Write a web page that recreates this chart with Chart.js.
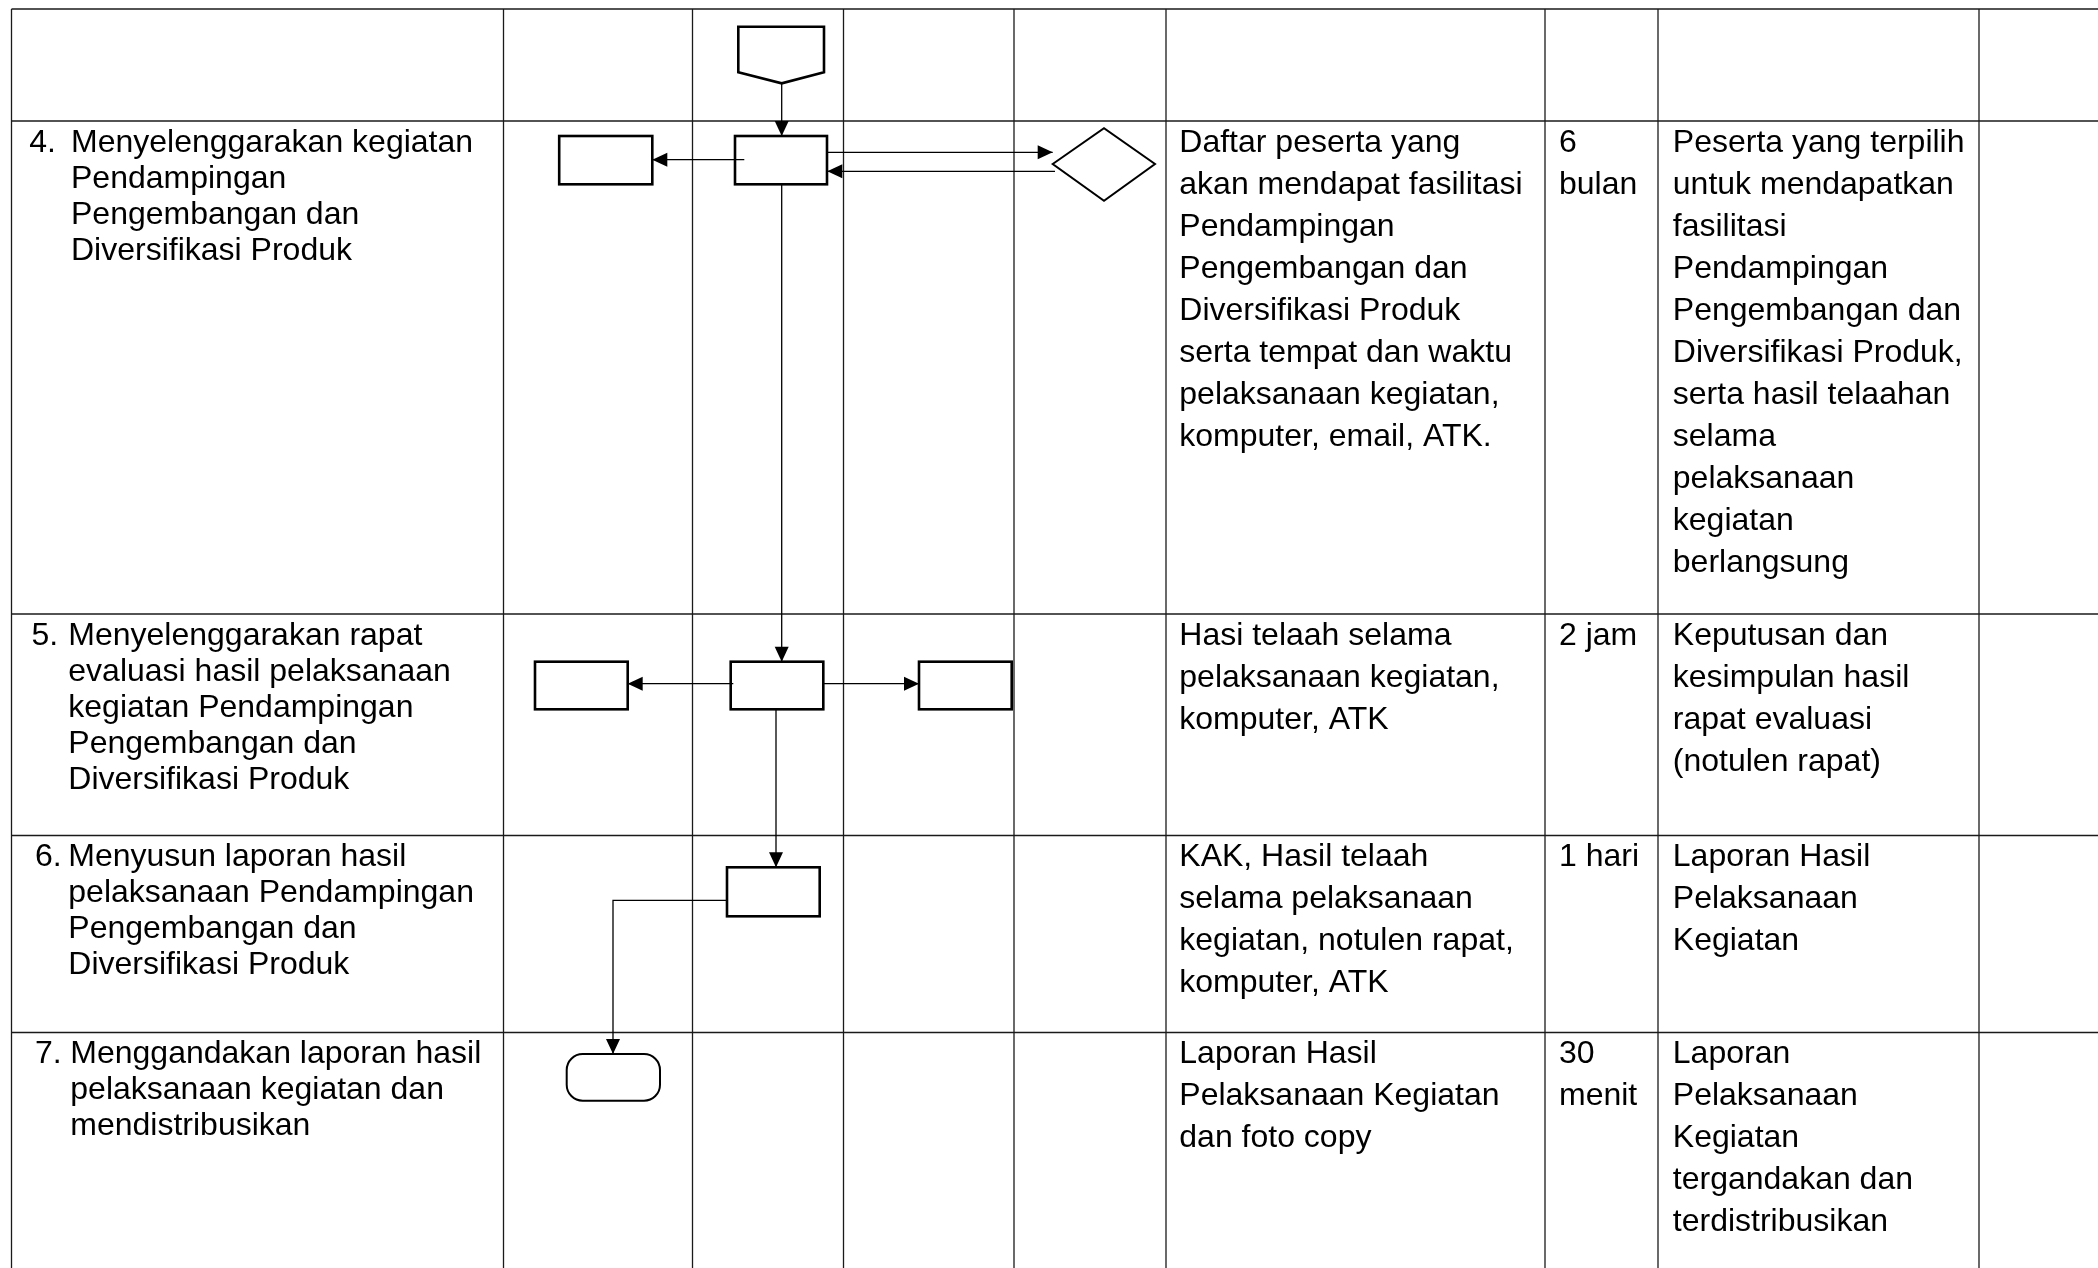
<!DOCTYPE html>
<html>
<head>
<meta charset="utf-8">
<script src="https://cdn.jsdelivr.net/npm/chart.js@4/dist/chart.umd.min.js"></script>
<style>
  html, body { margin: 0; padding: 0; background: #fff; }
  #wrap { width: 2098px; height: 1268px; position: relative; }
</style>
</head>
<body>
<div id="wrap"><canvas id="flow"></canvas></div>
<script>
// page units = pixels of the original 2098 x 1268 sheet
const colLines = [11.5, 503.5, 692.5, 843.5, 1014, 1166, 1545, 1658, 1979];
const rowLines = [9, 121, 614, 835.5, 1032.5];

// text in each table row (rows 4..7)
const stepNums = ['4.', '5.', '6.', '7.'];
const numX = [29.3, 31.5, 35, 35];
const stepX = [71, 68.3, 68.3, 70.3];
const stepText = [
  ['Menyelenggarakan kegiatan', 'Pendampingan', 'Pengembangan dan', 'Diversifikasi Produk'],
  ['Menyelenggarakan rapat', 'evaluasi hasil pelaksanaan', 'kegiatan Pendampingan', 'Pengembangan dan', 'Diversifikasi Produk'],
  ['Menyusun laporan hasil', 'pelaksanaan Pendampingan', 'Pengembangan dan', 'Diversifikasi Produk'],
  ['Menggandakan laporan hasil', 'pelaksanaan kegiatan dan', 'mendistribusikan']
];
const inputText = [
  ['Daftar peserta yang', 'akan mendapat fasilitasi', 'Pendampingan', 'Pengembangan dan', 'Diversifikasi Produk', 'serta tempat dan waktu', 'pelaksanaan kegiatan,', 'komputer, email, ATK.'],
  ['Hasi telaah selama', 'pelaksanaan kegiatan,', 'komputer, ATK'],
  ['KAK, Hasil telaah', 'selama pelaksanaan', 'kegiatan, notulen rapat,', 'komputer, ATK'],
  ['Laporan Hasil', 'Pelaksanaan Kegiatan', 'dan foto copy']
];
const timeText = [
  ['6', 'bulan'],
  ['2 jam'],
  ['1 hari'],
  ['30', 'menit']
];
const outputText = [
  ['Peserta yang terpilih', 'untuk mendapatkan', 'fasilitasi', 'Pendampingan', 'Pengembangan dan', 'Diversifikasi Produk,', 'serta hasil telaahan', 'selama', 'pelaksanaan', 'kegiatan', 'berlangsung'],
  ['Keputusan dan', 'kesimpulan hasil', 'rapat evaluasi', '(notulen rapat)'],
  ['Laporan Hasil', 'Pelaksanaan', 'Kegiatan'],
  ['Laporan', 'Pelaksanaan', 'Kegiatan', 'tergandakan dan', 'terdistribusikan']
];

// flowchart symbols [x1, y1, x2, y2]
const processBoxes = [
  [735, 136, 827, 184.3],
  [559.2, 136, 652.3, 184.3],
  [730.7, 661.7, 823.3, 709.3],
  [535, 661.7, 627.7, 709.3],
  [919, 661.7, 1011.7, 709.3],
  [727, 867.3, 819.7, 916.3]
];
const connectorPage = [[738.3, 26.7], [824, 26.7], [824, 72.3], [781.7, 83.3], [738.3, 72.3]];
const decision = [[1052.7, 164], [1104, 128.3], [1155, 164], [1104, 200.7]];
const terminator = [566.7, 1054, 660, 1100.7];

// arrows, last point gets the head
const flows = [
  [[781.7, 83.3], [781.7, 136]],
  [[744.3, 159.7], [652.3, 159.7]],
  [[827, 152.3], [1052.7, 152.3]],
  [[1055, 171.3], [827.3, 171.3]],
  [[781.7, 184.3], [781.7, 661.7]],
  [[733.3, 683.7], [627.7, 683.7]],
  [[823.3, 683.7], [919, 683.7]],
  [[776, 709.3], [776, 867.3]],
  [[727, 900.3], [613, 900.3], [613, 1054]]
];

const FONT = '32px "Liberation Sans", Arial, sans-serif';

const tablePlugin = {
  id: 'tablePlugin',
  beforeDatasetsDraw(chart) {
    const ctx = chart.ctx;
    const x = chart.scales.x, y = chart.scales.y;
    ctx.save();
    ctx.strokeStyle = '#1a1a1a';
    ctx.lineWidth = 1.3;
    colLines.forEach(c => {
      ctx.beginPath();
      ctx.moveTo(x.getPixelForValue(c), y.getPixelForValue(rowLines[0]));
      ctx.lineTo(x.getPixelForValue(c), y.getPixelForValue(1268));
      ctx.stroke();
    });
    rowLines.forEach(r => {
      ctx.beginPath();
      ctx.moveTo(x.getPixelForValue(colLines[0]), y.getPixelForValue(r));
      ctx.lineTo(x.getPixelForValue(2098), y.getPixelForValue(r));
      ctx.stroke();
    });

    // cell text
    ctx.fillStyle = '#000';
    ctx.font = FONT;
    ctx.textBaseline = 'alphabetic';
    const put = (lines, px, top, lh) => {
      lines.forEach((t, i) => {
        ctx.fillText(t, x.getPixelForValue(px), y.getPixelForValue(top + 30.7 + i * lh));
      });
    };
    for (let r = 0; r < 4; r++) {
      const top = rowLines[r + 1];
      put([stepNums[r]], numX[r], top, 36);
      put(stepText[r], stepX[r], top, 36);
      put(inputText[r], colLines[5] + 13.3, top, 42);
      put(timeText[r], colLines[6] + 14, top, 42);
      put(outputText[r], colLines[7] + 14.8, top, 42);
    }
    ctx.restore();
  },
  afterDatasetsDraw(chart) {
    const ctx = chart.ctx;
    const x = chart.scales.x, y = chart.scales.y;
    const px = v => x.getPixelForValue(v);
    const py = v => y.getPixelForValue(v);
    ctx.save();
    ctx.strokeStyle = '#000';
    ctx.fillStyle = '#000';

    // arrow heads
    flows.forEach(f => {
      const a = f[f.length - 2], b = f[f.length - 1];
      const x1 = px(a[0]), y1 = py(a[1]), x2 = px(b[0]), y2 = py(b[1]);
      const ang = Math.atan2(y2 - y1, x2 - x1);
      const len = 15, half = 7;
      ctx.beginPath();
      ctx.moveTo(x2, y2);
      ctx.lineTo(x2 - len * Math.cos(ang) + half * Math.sin(ang), y2 - len * Math.sin(ang) - half * Math.cos(ang));
      ctx.lineTo(x2 - len * Math.cos(ang) - half * Math.sin(ang), y2 - len * Math.sin(ang) + half * Math.cos(ang));
      ctx.closePath();
      ctx.fill();
    });

    ctx.lineWidth = 2.6;
    processBoxes.forEach(b => {
      ctx.strokeRect(px(b[0]), py(b[1]), px(b[2]) - px(b[0]), py(b[3]) - py(b[1]));
    });

    const poly = (pts, lw) => {
      ctx.lineWidth = lw;
      ctx.beginPath();
      pts.forEach((p, i) => i ? ctx.lineTo(px(p[0]), py(p[1])) : ctx.moveTo(px(p[0]), py(p[1])));
      ctx.closePath();
      ctx.stroke();
    };
    poly(connectorPage, 2.6);
    poly(decision, 2);

    ctx.lineWidth = 2;
    ctx.beginPath();
    ctx.roundRect(px(terminator[0]), py(terminator[1]), px(terminator[2]) - px(terminator[0]), py(terminator[3]) - py(terminator[1]), 16);
    ctx.stroke();
    ctx.restore();
  }
};

new Chart(document.getElementById('flow'), {
  type: 'scatter',
  data: {
    datasets: flows.map(f => ({
      data: f.map(p => ({ x: p[0], y: p[1] })),
      showLine: true,
      borderColor: '#000',
      borderWidth: 1.3,
      pointRadius: 0,
      tension: 0
    }))
  },
  options: {
    responsive: true,
    maintainAspectRatio: false,
    animation: false,
    events: [],
    layout: { padding: 0 },
    plugins: { legend: { display: false }, tooltip: { enabled: false } },
    scales: {
      x: { type: 'linear', min: 0, max: 2098, display: false },
      y: { type: 'linear', min: 0, max: 1268, reverse: true, display: false }
    }
  },
  plugins: [tablePlugin]
});
</script>
</body>
</html>
